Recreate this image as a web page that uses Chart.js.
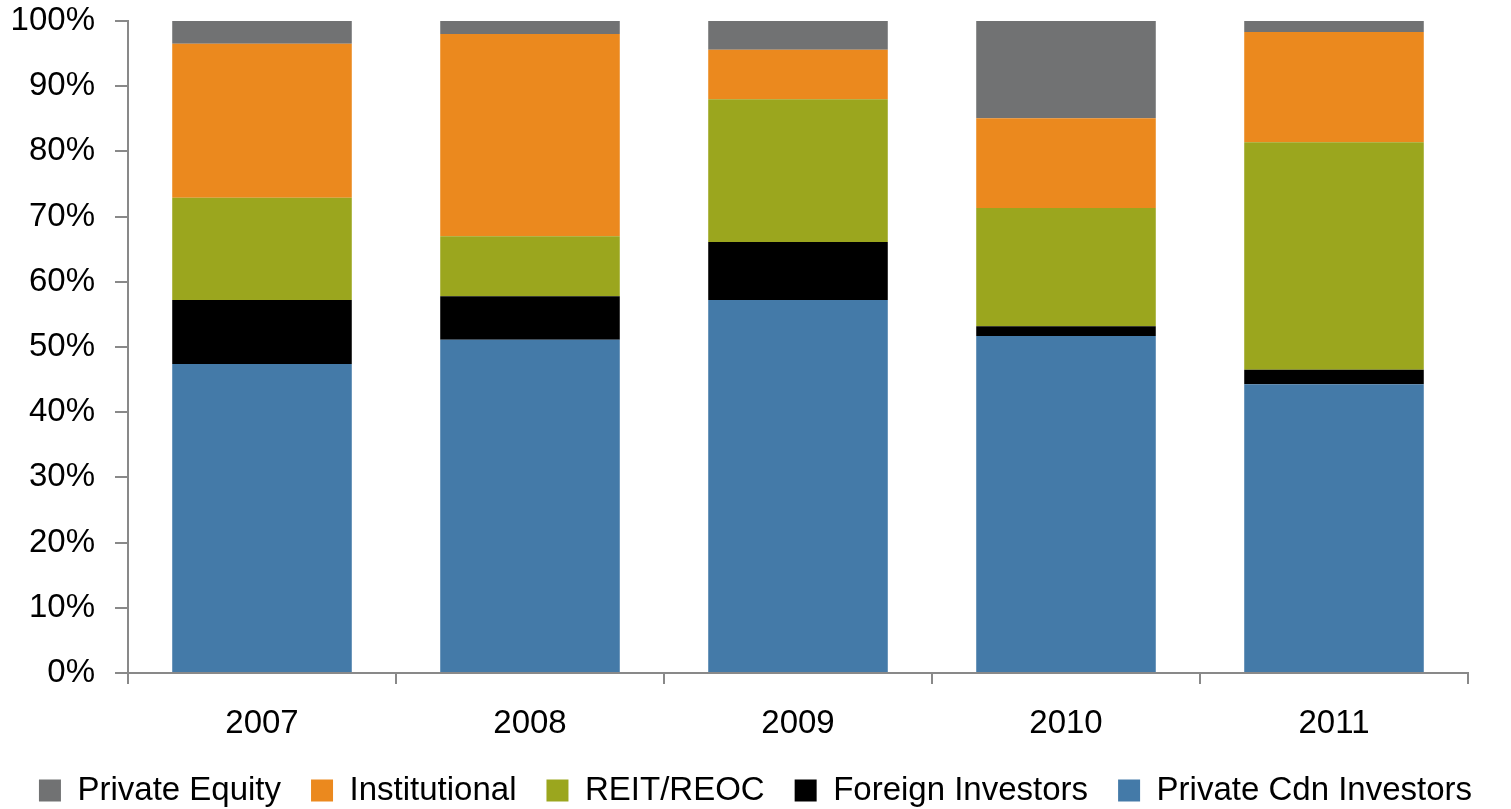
<!DOCTYPE html>
<html lang="en">
<head>
  <meta charset="UTF-8" />
  <title>Investor Mix</title>
  <script src="https://cdn.jsdelivr.net/npm/chart.js@4/dist/chart.umd.min.js"></script>
  <style>
    html, body { margin: 0; padding: 0; background: #fff; }
    #wrap { width: 1511px; height: 809px; }
  </style>
</head>
<body>
  <div id="wrap"><canvas id="barChart" width="1511" height="809"></canvas></div>

  <script>
    // categories and share of volume by buyer type (%)
    const years = ['2007', '2008', '2009', '2010', '2011']
    const privateCdn = [47.4, 51.1, 57.2, 51.7, 44.3]
    const foreign = [9.8, 6.7, 8.9, 1.5, 2.2]
    const reit = [15.7, 9.2, 21.9, 18.1, 34.9]
    const institutional = [23.6, 31.0, 7.6, 13.8, 16.9]
    const privateEquity = [3.5, 2.0, 4.4, 14.9, 1.7]
    const yTicks = [0, 10, 20, 30, 40, 50, 60, 70, 80, 90, 100]

    const axisGray = '#898989'
    Chart.defaults.font.family = '"Liberation Sans", Arial, sans-serif'
    Chart.defaults.font.size = 33
    Chart.defaults.color = '#000'

    const ctx = document.getElementById('barChart').getContext('2d')
    new Chart(ctx, {
      type: 'bar',
      data: {
        labels: years,
        datasets: [
          { label: 'Private Cdn Investors', data: privateCdn, backgroundColor: '#447AA8' },
          { label: 'Foreign Investors', data: foreign, backgroundColor: '#000000' },
          { label: 'REIT/REOC', data: reit, backgroundColor: '#9BA61E' },
          { label: 'Institutional', data: institutional, backgroundColor: '#EB891E' },
          { label: 'Private Equity', data: privateEquity, backgroundColor: '#717273' }
        ]
      },
      options: {
        responsive: false,
        animation: false,
        layout: { padding: { top: 0, left: 0, right: 0, bottom: -8 } },
        datasets: { bar: { categoryPercentage: 1, barPercentage: 0.67 } },
        plugins: {
          tooltip: { enabled: false },
          legend: {
            position: 'bottom',
            reverse: true,
            labels: { boxWidth: 22, boxHeight: 22, padding: 30, color: '#000' }
          }
        },
        scales: {
          x: {
            stacked: true,
            afterFit: axis => { axis.height = 71 },
            border: { color: axisGray, width: 2 },
            grid: { offset: true, drawOnChartArea: false, drawTicks: true, tickLength: 11, color: axisGray, lineWidth: 2 },
            ticks: { padding: 20, color: '#000' }
          },
          y: {
            stacked: true,
            min: 0,
            max: 100,
            afterBuildTicks: axis => { axis.ticks = yTicks.map(v => ({ value: v })) },
            afterFit: axis => { axis.width = 128; axis.paddingTop = 21 },
            border: { color: axisGray, width: 2 },
            grid: { drawOnChartArea: false, drawTicks: true, tickLength: 13, color: axisGray, lineWidth: 2 },
            ticks: { padding: 20, color: '#000', callback: v => v + '%' }
          },
          // empty right-hand axis, only reserves the gap after the last bar
          yRight: {
            position: 'right',
            display: true,
            afterFit: axis => { axis.width = 43 },
            border: { display: false },
            grid: { display: false },
            ticks: { display: false }
          }
        }
      }
    })
  </script>
</body>
</html>
